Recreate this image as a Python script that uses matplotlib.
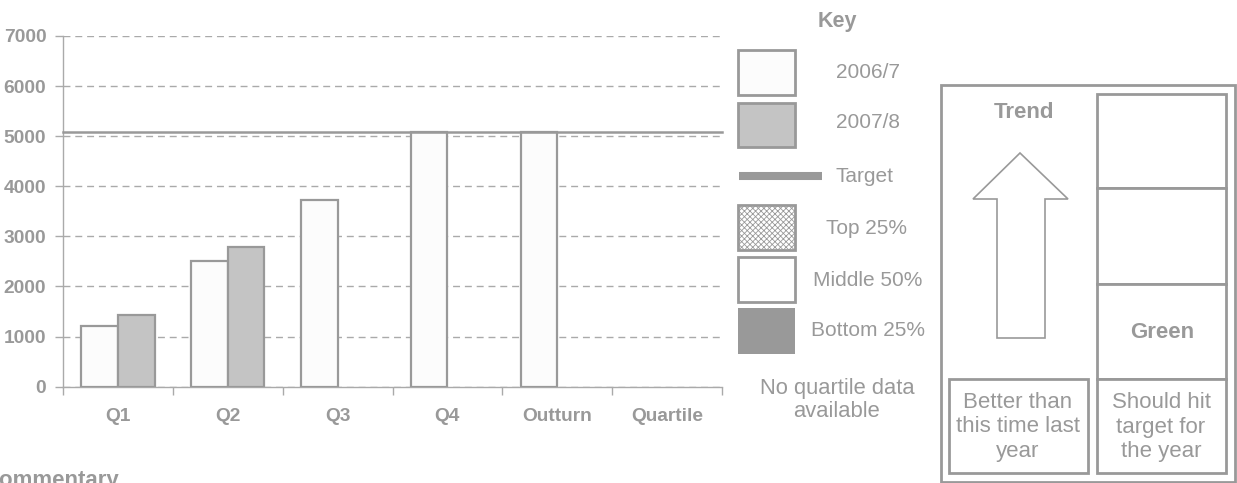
import matplotlib.pyplot as plt
import matplotlib.patches as mpatches
import numpy as np

plt.rcParams['font.family'] = ['Liberation Sans', 'DejaVu Sans']
plt.rcParams['hatch.linewidth'] = 0.6

grey = '#999999'
txt = '#999999'

# data
categories = ['Q1', 'Q2', 'Q3', 'Q4', 'Outturn', 'Quartile']
vals_0607 = [1220, 2500, 3730, 5090, 5090, np.nan]
vals_0708 = [1440, 2790, np.nan, np.nan, np.nan, np.nan]
target = 5080
yticks = [0, 1000, 2000, 3000, 4000, 5000, 6000, 7000]

W, H = 1237, 483
fig = plt.figure(figsize=(W / 100, H / 100), dpi=100)

# main chart axes (pixel based placement)
x0, x1 = 63, 722
ytop, ybot = 36, 386.7
ax = fig.add_axes([x0 / W, (H - ybot) / H, (x1 - x0) / W, (ybot - ytop) / H])

x = np.arange(len(categories))
bw = 1 / 3
ax.bar(x - bw / 2, vals_0607, bw, color='#fcfcfc', edgecolor=grey, linewidth=1.6, zorder=3)
ax.bar(x + bw / 2, vals_0708, bw, color='#c4c4c4', edgecolor=grey, linewidth=1.6, zorder=3)
ax.axhline(target, color=grey, linewidth=1.8, zorder=4, clip_on=False)

ax.set_xlim(-0.5, len(categories) - 0.5)
ax.set_ylim(0, 7000)
ax.set_yticks(yticks)
ax.set_yticklabels([str(v) for v in yticks], fontsize=13.8, fontweight='bold', color=txt)
ax.yaxis.grid(True, linestyle=(0, (5, 3.5)), color='#aaaaaa', linewidth=1)
ax.set_axisbelow(True)

ax.set_xticks(np.arange(len(categories) + 1) - 0.5)
ax.set_xticklabels([])
ax.set_xticks(x, minor=True)
ax.set_xticklabels(categories, minor=True, fontsize=13.8, fontweight='bold', color=txt)
ax.tick_params(axis='x', which='major', length=6, color='#aaaaaa', width=1)
ax.tick_params(axis='x', which='minor', length=0, pad=15)
ax.tick_params(axis='y', length=6, color='#aaaaaa', width=1, pad=6)

for s in ['top', 'right']:
    ax.spines[s].set_visible(False)
for s in ['left', 'bottom']:
    ax.spines[s].set_color('#aaaaaa')
    ax.spines[s].set_linewidth(1)

# overlay for key and trend panel, in pixel coordinates
ov = fig.add_axes([0, 0, 1, 1])
ov.set_xlim(0, W)
ov.set_ylim(H, 0)
ov.axis('off')
ov.patch.set_alpha(0)

ov.text(837, 22, 'Key', ha='center', va='center', fontsize=15.5, fontweight='bold', color=txt)

def box(xa, ya, xb, yb, lw=2.0, fc='white', ec=grey, hatch=None):
    ov.add_patch(mpatches.Rectangle((xa, ya), xb - xa, yb - ya, facecolor=fc,
                                    edgecolor=ec, linewidth=lw, hatch=hatch))

box(738, 50, 795, 95, fc='#fcfcfc')
box(738, 103, 795, 147, fc='#c4c4c4')
ov.plot([739, 822], [176, 176], color=grey, linewidth=5.8, solid_capstyle='butt')
box(738, 205, 795, 250, fc='white', hatch='xxxxxx')
box(738, 257, 795, 302, fc='white')
box(738, 308, 795, 354, fc=grey, ec=grey, lw=0)

key_labels = ['2006/7', '2007/8', 'Target', 'Top 25%', 'Middle 50%', 'Bottom 25%']
key_y = [72, 123, 176, 228, 280, 330]
key_x = [868, 868, 865, 867, 868, 868]
for lab, kx, ky in zip(key_labels, key_x, key_y):
    ov.text(kx, ky, lab, ha='center', va='center', fontsize=15, color=txt)

ov.text(837, 400, 'No quartile data\navailable', ha='center', va='center',
        fontsize=15.8, color=txt, linespacing=1.15)

# trend panel
box(941, 85, 1235, 482)
box(1097, 94, 1226, 188)
box(1097, 188, 1226, 284)
box(1097, 284, 1226, 379)
box(1097, 379, 1226, 473)
box(949, 379, 1088, 473)

ov.text(1024, 112, 'Trend', ha='center', va='center', fontsize=16, fontweight='bold', color=txt)
ov.text(1162, 332, 'Green', ha='center', va='center', fontsize=16, fontweight='bold', color=txt)

arrow = [(1020, 153), (1068, 199), (1045, 199), (1045, 338), (997, 338),
         (997, 199), (973, 199)]
ov.add_patch(mpatches.Polygon(arrow, closed=True, facecolor='white',
                              edgecolor=grey, linewidth=1.2))

ov.text(1018, 427, 'Better than\nthis time last\nyear', ha='center', va='center',
        fontsize=16, color=txt, linespacing=1.25)
ov.text(1161, 427, 'Should hit\ntarget for\nthe year', ha='center', va='center',
        fontsize=16, color=txt, linespacing=1.25)

# heading of the section below, cut off by the figure edge as in the source
ov.text(-17, 486, 'Commentary', ha='left', va='baseline', fontsize=16,
        fontweight='bold', color=txt)

fig.savefig('out.png', dpi=100)
